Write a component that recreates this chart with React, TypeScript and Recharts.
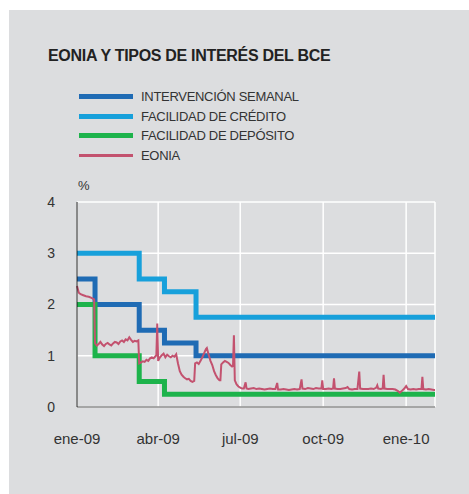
import React from 'react';
import { LineChart, Line, XAxis, YAxis, CartesianGrid } from 'recharts';

// x values are days since 1 Jan 2009
const tickDays = [0, 90, 181, 273, 365];
const tickLabels = ['ene-09', 'abr-09', 'jul-09', 'oct-09', 'ene-10'];
const yTicks = [0, 1, 2, 3, 4];

const mroDays = [0, 20, 69, 97, 132, 397];
const mroValues = [2.5, 2.0, 1.5, 1.25, 1.0, 1.0];

const mlfDays = [0, 69, 97, 132, 397];
const mlfValues = [3.0, 2.5, 2.25, 1.75, 1.75];

const dfDays = [0, 20, 69, 97, 397];
const dfValues = [2.0, 1.0, 0.5, 0.25, 0.25];

const eoniaDays = [
  0, 2, 4, 7, 10, 13, 16, 19, 20, 22, 24, 26, 28, 30, 32, 34, 36, 38, 40, 42, 44, 46, 48, 50, 52, 54, 56, 58, 60, 62, 64, 66, 68,
  69, 71, 73, 75, 77, 79, 81, 83, 85, 87, 88, 89, 90, 92, 94, 96, 98, 100, 102, 104, 106, 108, 110, 112, 114, 116, 118, 120, 122,
  124, 126, 128, 130, 131, 133, 135, 137, 139, 141, 143, 144, 146, 148, 150, 152, 154, 156, 158, 159, 160, 162, 164, 166, 168, 170,
  172, 173, 174, 175, 177, 179, 181, 183, 185, 187, 188, 190, 193, 196, 199, 202, 205, 208, 211, 214, 217, 220, 222, 223, 226, 229,
  232, 235, 238, 241, 244, 247, 249, 250, 253, 256, 259, 262, 265, 268, 271, 272, 273, 276, 279, 282, 284, 285, 286, 289, 292, 295,
  298, 300, 302, 305, 308, 311, 313, 314, 317, 320, 323, 326, 329, 332, 333, 334, 337, 339, 340, 341, 344, 347, 350, 353, 356, 358,
  360, 363, 365, 367, 370, 373, 376, 379, 382, 383, 384, 387, 390, 393, 396, 397,
];
const eoniaValues = [
  2.36, 2.23, 2.2, 2.18, 2.16, 2.15, 2.13, 2.1, 1.24, 1.2, 1.23, 1.27, 1.22, 1.19, 1.23, 1.25, 1.22, 1.2, 1.24, 1.27, 1.26, 1.23, 1.28, 1.3, 1.27, 1.32, 1.3, 1.36, 1.31, 1.27, 1.29, 1.28, 1.3,
  0.85, 0.87, 0.89, 0.88, 0.92, 0.9, 0.95, 0.97, 0.95, 0.99, 1.01, 1.63, 0.9, 0.97, 1.01, 1.04, 0.97, 1.02, 0.99, 0.97, 1.0, 0.98, 1.03, 0.85, 0.7, 0.63, 0.59, 0.56, 0.54,
  0.55, 0.51, 0.49, 0.51, 0.85, 0.87, 0.84, 0.9, 0.97, 1.05, 1.13, 1.15, 1.02, 0.9, 0.82, 0.7, 0.62, 0.56, 0.52, 0.52, 0.83, 0.87, 0.9, 0.88, 0.86, 0.82,
  0.79, 0.8, 1.4, 0.52, 0.44, 0.4, 0.38, 0.36, 0.36, 0.48, 0.36, 0.35, 0.36, 0.37, 0.35, 0.36, 0.35, 0.34, 0.35, 0.36, 0.35, 0.35, 0.47, 0.34, 0.34, 0.35,
  0.34, 0.33, 0.34, 0.35, 0.34, 0.35, 0.54, 0.36, 0.35, 0.37, 0.36, 0.35, 0.37, 0.36, 0.36, 0.52, 0.35, 0.35, 0.36, 0.35, 0.36, 0.56, 0.36, 0.35, 0.35, 0.36,
  0.37, 0.39, 0.35, 0.34, 0.35, 0.35, 0.69, 0.36, 0.35, 0.35, 0.35, 0.36, 0.35, 0.38, 0.42, 0.36, 0.35, 0.36, 0.63, 0.36, 0.35, 0.35, 0.35, 0.34, 0.31, 0.28,
  0.31, 0.36, 0.41, 0.35, 0.34, 0.35, 0.34, 0.35, 0.35, 0.59, 0.35, 0.34, 0.35, 0.34, 0.33, 0.33,
];

const zip = (days: number[], vals: number[]) => days.map((d, i) => ({ day: d, v: vals[i] }));

const series = [
  { name: 'INTERVENCIÓN SEMANAL', color: '#1f6bb4', width: 5, legendWidth: 5, data: zip(mroDays, mroValues), type: 'stepAfter' },
  { name: 'FACILIDAD DE CRÉDITO', color: '#17a0db', width: 5, legendWidth: 5, data: zip(mlfDays, mlfValues), type: 'stepAfter' },
  { name: 'FACILIDAD DE DEPÓSITO', color: '#1db34b', width: 5, legendWidth: 5, data: zip(dfDays, dfValues), type: 'stepAfter' },
  { name: 'EONIA', color: '#c3526f', width: 2, legendWidth: 3, data: zip(eoniaDays, eoniaValues), type: 'linear' },
];

const FONT = '"Liberation Sans", Arial, Helvetica, sans-serif';

export default function App() {
  return (
    <div
      style={{
        position: 'absolute',
        left: 9,
        top: 10,
        width: 460,
        height: 484,
        background: '#dcdddf',
        fontFamily: FONT,
      }}
    >
      <div
        style={{
          position: 'absolute',
          left: 39,
          top: 37.5,
          fontSize: 16,
          lineHeight: 1,
          fontWeight: 700,
          letterSpacing: -0.3,
          color: '#222',
          whiteSpace: 'nowrap',
        }}
      >
        EONIA Y TIPOS DE INTERÉS DEL BCE
      </div>
      <div style={{ position: 'absolute', left: 70, top: 77 }}>
        {series.map((s) => (
          <div key={s.name} style={{ display: 'flex', alignItems: 'center', height: 19.5 }}>
            <div style={{ width: 54, height: s.legendWidth, background: s.color, marginRight: 8 }} />
            <span style={{ fontSize: 13, lineHeight: '19.5px', letterSpacing: -0.3, color: '#333', whiteSpace: 'nowrap' }}>
              {s.name}
            </span>
          </div>
        ))}
      </div>
      <div style={{ position: 'absolute', left: 69, top: 169, fontSize: 13, lineHeight: 1, color: '#333' }}>%</div>
      <LineChart width={460} height={484} margin={{ top: 192, right: 34, left: 0, bottom: 0 }}>
        <CartesianGrid stroke="#ffffff" strokeWidth={1.5} />
        <XAxis
          dataKey="day"
          type="number"
          domain={[0, 397]}
          ticks={tickDays}
          tickFormatter={(d: number) => tickLabels[tickDays.indexOf(d)]}
          allowDuplicatedCategory={false}
          height={87}
          tickLine={false}
          tickSize={0}
          tickMargin={26}
          axisLine={{ stroke: '#555', strokeWidth: 1 }}
          tick={{ fontSize: 15, fill: '#333', fontFamily: FONT }}
        />
        <YAxis
          type="number"
          domain={[0, 4]}
          ticks={yTicks}
          width={68}
          tickLine={false}
          tickSize={0}
          tickMargin={22}
          axisLine={{ stroke: '#1a1a1a', strokeWidth: 1 }}
          tick={{ fontSize: 14, fill: '#333', fontFamily: FONT }}
        />
        {series.map((s) => (
          <Line
            key={s.name}
            data={s.data}
            dataKey="v"
            name={s.name}
            type={s.type as any}
            stroke={s.color}
            strokeWidth={s.width}
            dot={false}
            activeDot={false}
            isAnimationActive={false}
          />
        ))}
      </LineChart>
    </div>
  );
}
